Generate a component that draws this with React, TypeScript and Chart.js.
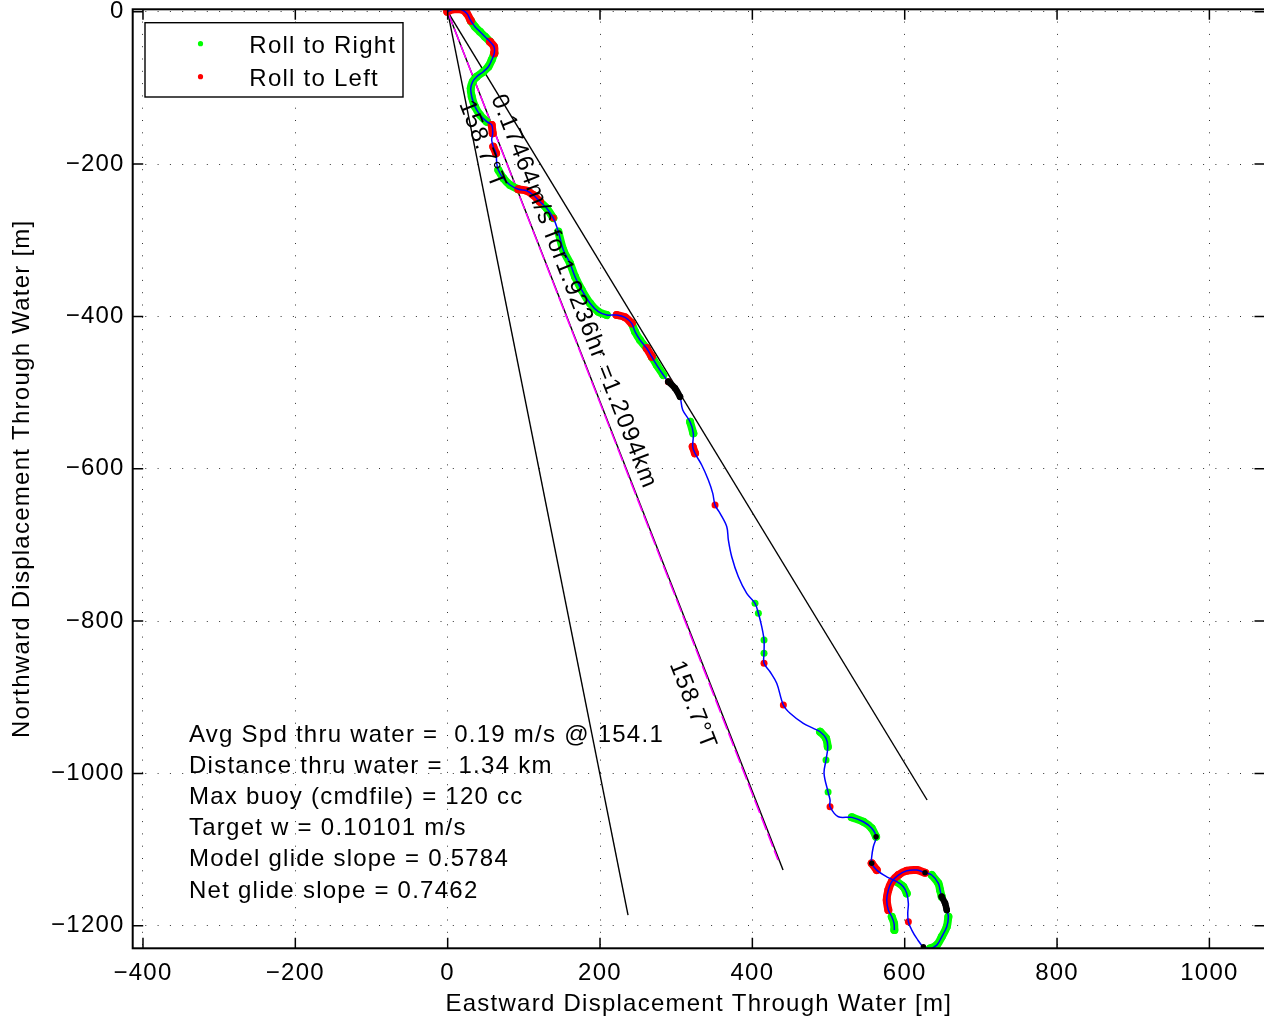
import { useEffect, useRef } from "react";
import { Chart, registerables } from "chart.js";

Chart.register(...registerables);

const FONT_FAMILY = '"Liberation Sans", Arial, Helvetica, sans-serif';

const xTickValues = [-400, -200, 0, 200, 400, 600, 800, 1000];
const yTickValues = [-1200, -1000, -800, -600, -400, -200, 0];
const xLimits = [-413.5, 1073];
const yLimits = [-1229.6, 3.15];

// glider track through water (east, north) in metres
const pathX = [
  -0.5, 7.4, 17.1, 25.0, 30.3, 35.9, 42.5, 49.0, 55.6, 60.9,
  61.2, 57.8, 53.4, 46.8, 38.1, 32.9, 30.3, 31.6, 35.9, 42.5,
  51.3, 57.8, 59.1, 57.8, 59.9, 63.5, 64.4, 66.5, 73.1, 81.9,
  92.8, 103.8, 112.4, 121.2, 130.0, 138.7, 145.3, 151.8, 160.6, 167.2,
  176.0, 186.9, 197.8, 208.8, 221.9, 232.8, 241.6, 246.0, 252.5, 261.3,
  267.9, 274.5, 283.1, 289.7, 298.5, 305.0, 308.6, 318.2, 322.5, 321.7,
  324.7, 333.5, 342.2, 348.0, 351.0, 357.6, 366.4, 368.5, 372.9, 381.6,
  392.6, 403.5, 407.9, 412.3, 415.3, 415.3, 415.3, 423.2, 432.0, 440.7,
  449.5, 466.9, 480.1, 488.9, 496.7, 499.0, 496.7, 494.1, 499.4, 502.0,
  502.0, 512.9, 530.5, 545.7, 556.7, 562.4, 558.8, 556.7, 556.7, 563.3,
  576.4, 589.6, 598.2, 602.7, 604.8, 604.0, 604.8, 609.3, 615.8, 624.5,
  633.3, 642.1, 648.6, 655.2, 657.3, 655.2, 653.0, 648.6, 646.4, 644.2,
  635.5, 626.7, 615.8, 602.7, 591.7, 583.0, 578.5, 576.4, 578.5, 583.0,
  586.0, 586.4,
];
const pathY = [
  0.0, 3.2, 3.2, -2.1, -11.8, -19.7, -26.3, -32.8, -39.4, -46.0,
  -54.6, -63.4, -72.2, -78.8, -85.3, -91.9, -100.6, -111.6, -124.7, -135.6,
  -144.4, -148.7, -159.6, -168.4, -177.2, -185.9, -199.0, -207.8, -218.7, -227.5,
  -233.2, -235.0, -240.7, -249.5, -258.1, -270.9, -288.8, -312.9, -330.3, -347.9,
  -365.4, -382.8, -393.9, -398.2, -398.2, -401.2, -409.1, -420.1, -431.0, -441.9,
  -452.9, -463.9, -477.0, -485.8, -494.4, -505.5, -522.9, -538.3, -553.5, -571.1,
  -579.8, -595.1, -614.8, -632.3, -647.6, -658.6, -676.1, -693.6, -715.5, -741.8,
  -763.6, -776.7, -789.8, -807.4, -824.9, -842.4, -855.5, -866.5, -881.7, -910.2,
  -921.1, -934.3, -940.8, -945.3, -954.0, -965.0, -982.4, -999.9, -1024.5, -1035.0,
  -1043.8, -1056.9, -1057.7, -1063.5, -1072.1, -1083.2, -1096.3, -1109.4, -1118.1, -1126.9,
  -1135.7, -1142.2, -1148.8, -1157.5, -1170.6, -1183.7, -1194.8, -1205.7, -1216.6, -1227.6,
  -1229.7, -1225.4, -1214.5, -1201.3, -1188.2, -1179.4, -1170.6, -1161.9, -1153.1, -1144.3,
  -1133.4, -1130.4, -1126.9, -1127.8, -1133.4, -1142.2, -1153.1, -1166.2, -1179.4, -1188.2,
  -1196.9, -1205.7,
];

// index ranges (inclusive) into the track
const rollRightSegments = [
  [4, 8], [10, 20], [27, 30], [33, 35], [36, 43], [46, 49], [50, 52], [57, 58],
  [71, 71], [72, 72], [74, 74], [75, 75], [83, 85], [86, 86], [88, 88], [92, 95],
  [101, 103], [110, 114], [117, 120], [129, 131],
];
const rollLeftSegments = [
  [0, 4], [8, 10], [21, 22], [24, 25], [30, 33], [35, 35], [44, 46], [49, 50],
  [53, 53], [59, 60], [64, 64], [76, 76], [79, 79], [90, 90], [98, 99],
  [106, 106], [121, 128],
];
const blackMarkerSegments = [[53, 55], [95, 95], [98, 98], [109, 109], [115, 117], [121, 121]];

const headingLineEndX = [236.8, 440.3, 629.4];
const headingLineEndY = [-1185.9, -1126.9, -1034.9];
const trackLineEnd = [433.7, -1113.7];

const headingDeg = 158.7;
const headingLabel = "158.7°T";
const headingLabelX = [45.1, 321.5];
const headingLabelY = [-174.6, -910.6];
const speedLabel = "0.17464m/s for1.9236hr =1.2094km";
const speedLabelPos = [165.5, -367.5];

const statsLines = [
  "Avg Spd thru water =  0.19 m/s @ 154.1",
  "Distance thru water =  1.34 km",
  "Max buoy (cmdfile) = 120 cc",
  "Target w = 0.10101 m/s",
  "Model glide slope = 0.5784",
  "Net glide slope = 0.7462",
];
const statsPos = [-339.6, -958.3];

const legendLabels = ["Roll to Right", "Roll to Left"];
const legendColors = ["#00ff00", "#ff0000"];

const CANVAS_W = 1300;
const CANVAS_H = 1022;

const fmt = (v: number) => (v < 0 ? "\u2212" + Math.abs(v) : String(v));

const segPoints = (s: number[]) => {
  const pts = [];
  for (let i = s[0]; i <= s[1]; i++) pts.push({ x: pathX[i], y: pathY[i] });
  return pts;
};

const overlayPlugin = {
  id: "overlay",
  beforeDraw(chart: any) {
    chart.ctx.letterSpacing = "1.25px";
  },
  afterDatasetsDraw(chart: any) {
    const { ctx } = chart;
    const xs = chart.scales.x;
    const ys = chart.scales.y;
    ctx.save();
    ctx.letterSpacing = "1.25px";
    ctx.font = `24px ${FONT_FAMILY}`;
    ctx.fillStyle = "#000";
    const rot = ((headingDeg - 90) * Math.PI) / 180;
    const drawRot = (text: string, dx: number, dy: number) => {
      ctx.save();
      ctx.translate(xs.getPixelForValue(dx), ys.getPixelForValue(dy));
      ctx.rotate(rot);
      ctx.textAlign = "center";
      ctx.textBaseline = "middle";
      ctx.fillText(text, 0, 0);
      ctx.restore();
    };
    drawRot(speedLabel, speedLabelPos[0], speedLabelPos[1]);
    for (let i = 0; i < headingLabelX.length; i++) drawRot(headingLabel, headingLabelX[i], headingLabelY[i]);
    ctx.textAlign = "left";
    ctx.textBaseline = "alphabetic";
    const sx = xs.getPixelForValue(statsPos[0]);
    const sy = ys.getPixelForValue(statsPos[1]);
    statsLines.forEach((line, i) => ctx.fillText(line, sx, sy + i * 31.2));
    ctx.restore();
  },
  afterDraw(chart: any) {
    const { ctx, chartArea: a } = chart;
    const xs = chart.scales.x;
    const ys = chart.scales.y;
    ctx.save();
    ctx.strokeStyle = "#000";
    ctx.lineWidth = 1.5;
    const tl = 10.5;
    ctx.beginPath();
    xTickValues.forEach((v) => {
      const px = xs.getPixelForValue(v);
      ctx.moveTo(px, a.bottom);
      ctx.lineTo(px, a.bottom - tl);
      ctx.moveTo(px, a.top);
      ctx.lineTo(px, a.top + tl);
    });
    yTickValues.forEach((v) => {
      const py = ys.getPixelForValue(v);
      ctx.moveTo(a.left, py);
      ctx.lineTo(a.left + tl, py);
      ctx.moveTo(a.right, py);
      ctx.lineTo(a.right - tl, py);
    });
    ctx.stroke();
    ctx.lineWidth = 2;
    ctx.strokeRect(a.left, a.top, a.right - a.left, a.bottom - a.top);

    // legend box
    const lx = a.left + 12.3;
    const ly = a.top + 13.4;
    const lw = 258;
    const lh = 74.3;
    ctx.fillStyle = "#fff";
    ctx.fillRect(lx, ly, lw, lh);
    ctx.lineWidth = 1.4;
    ctx.strokeRect(lx, ly, lw, lh);
    ctx.letterSpacing = "1.25px";
    ctx.font = `24px ${FONT_FAMILY}`;
    ctx.textAlign = "left";
    ctx.textBaseline = "alphabetic";
    legendLabels.forEach((lab, i) => {
      const cy = ly + 21 + i * 33;
      ctx.fillStyle = legendColors[i];
      ctx.beginPath();
      ctx.arc(lx + 55.5, cy, 2.6, 0, Math.PI * 2);
      ctx.fill();
      ctx.fillStyle = "#000";
      ctx.fillText(lab, lx + 104.3, cy + 9.3);
    });
    ctx.restore();
  },
};

export default function App() {
  const ref = useRef<HTMLCanvasElement | null>(null);

  useEffect(() => {
    if (!ref.current) return;
    const datasets: any[] = [];

    headingLineEndX.forEach((ex, i) => {
      datasets.push({
        data: [{ x: 0, y: 0 }, { x: ex, y: headingLineEndY[i] }],
        showLine: true,
        borderColor: "#000",
        borderWidth: 1.4,
        pointRadius: 0,
        order: 10,
      });
    });
    datasets.push({
      data: [{ x: 0, y: 0 }, { x: trackLineEnd[0], y: trackLineEnd[1] }],
      showLine: true,
      borderColor: "#ff00ff",
      borderWidth: 1.6,
      borderDash: [14, 4],
      pointRadius: 0,
      order: 9,
    });

    const band = (segs: number[][], color: string, order: number, width: number) => {
      segs.forEach((s) => {
        const single = s[1] === s[0];
        datasets.push({
          data: segPoints(s),
          showLine: !single,
          borderColor: color,
          backgroundColor: color,
          pointBackgroundColor: color,
          pointBorderWidth: 0,
          pointRadius: single ? width / 2 - 0.5 : width / 2,
          borderWidth: width,
          borderCapStyle: "round",
          borderJoinStyle: "round",
          tension: 0.35,
          order,
        });
      });
    };
    band(rollRightSegments, legendColors[0], 6, 8);
    band(rollLeftSegments, legendColors[1], 5, 8);

    datasets.push({
      data: pathX.map((x, i) => ({ x, y: pathY[i] })),
      showLine: true,
      borderColor: "#0000ff",
      borderWidth: 1.5,
      pointRadius: 0,
      tension: 0.35,
      order: 2,
    });
    band(blackMarkerSegments, "#000", 1, 6.5);

    const tickFont = { size: 24, family: FONT_FAMILY };
    const chart = new Chart(ref.current, {
      type: "scatter",
      data: { datasets },
      plugins: [overlayPlugin],
      options: {
        animation: false,
        responsive: false,
        maintainAspectRatio: false,
        events: [],
        layout: { padding: { left: 0, top: 9.3, right: CANVAS_W - 1265, bottom: 0 } },
        plugins: { legend: { display: false }, tooltip: { enabled: false } },
        scales: {
          x: {
            type: "linear",
            position: "bottom",
            min: xLimits[0],
            max: xLimits[1],
            afterBuildTicks: (s: any) => {
              s.ticks = xTickValues.map((v) => ({ value: v }));
            },
            afterFit: (s: any) => {
              s.height = CANVAS_H - 948.3;
              s.paddingLeft = 0;
              s.paddingRight = 0;
              s.paddingTop = 0;
              s.paddingBottom = 0;
            },
            ticks: {
              callback: (v: any) => fmt(Number(v)),
              font: tickFont,
              color: "#000",
              padding: 11,
              maxRotation: 0,
              autoSkip: false,
            },
            grid: { color: "rgba(0,0,0,0.8)", lineWidth: 1, drawTicks: false },
            border: { display: false, dash: [1, 11.3] },
            title: {
              display: true,
              text: "Eastward Displacement Through Water [m]",
              font: tickFont,
              color: "#000",
              padding: { top: 0, bottom: 3.6 },
            },
          },
          y: {
            type: "linear",
            position: "left",
            min: yLimits[0],
            max: yLimits[1],
            afterBuildTicks: (s: any) => {
              s.ticks = yTickValues.map((v) => ({ value: v }));
            },
            afterFit: (s: any) => {
              s.width = 132.7;
              s.paddingLeft = 0;
              s.paddingRight = 0;
              s.paddingTop = 0;
              s.paddingBottom = 0;
            },
            ticks: {
              callback: (v: any) => fmt(Number(v)),
              font: tickFont,
              color: "#000",
              padding: 8,
              autoSkip: false,
            },
            grid: { color: "rgba(0,0,0,0.8)", lineWidth: 1, drawTicks: false },
            border: { display: false, dash: [1, 11.3] },
            title: {
              display: true,
              text: "Northward Displacement Through Water [m]",
              font: tickFont,
              color: "#000",
              padding: { top: 7.6, bottom: 0 },
            },
          },
        },
      } as any,
    });
    return () => chart.destroy();
  }, []);

  return (
    <div
      style={{
        position: "fixed",
        left: 0,
        top: 0,
        width: 1264,
        height: 1022,
        overflow: "hidden",
        background: "#fff",
      }}
    >
      <canvas
        ref={ref}
        width={CANVAS_W}
        height={CANVAS_H}
        style={{ width: CANVAS_W, height: CANVAS_H, display: "block" }}
      />
    </div>
  );
}
